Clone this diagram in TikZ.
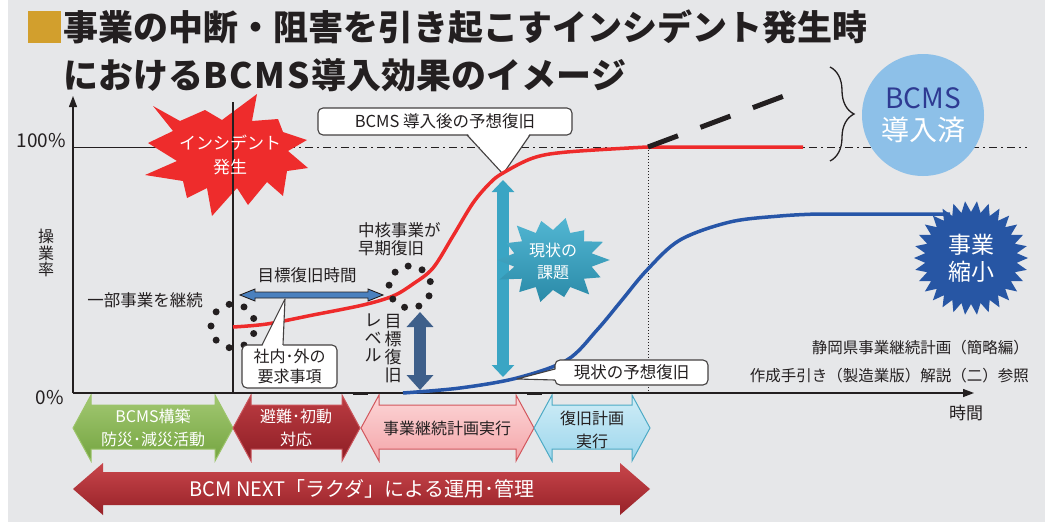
\documentclass[tikz,border=0pt]{standalone}
\usepackage{fontspec}
\setmainfont{Noto Sans CJK JP}
\usetikzlibrary{arrows.meta,decorations.pathreplacing}

\definecolor{bgray}{HTML}{E6E7E9}
\definecolor{ink}{HTML}{231F20}
\definecolor{titlegold}{HTML}{D29F2D}
\definecolor{curvered}{HTML}{EE2B2B}
\definecolor{curveblue}{HTML}{2756A8}
\definecolor{burstred}{HTML}{EE2C2C}
\definecolor{burstblue}{HTML}{2756A4}
\definecolor{circleblue}{HTML}{8DC0E8}
\definecolor{bcmsnavy}{HTML}{2E3A92}
\definecolor{gapteal}{HTML}{3AA5C4}
\definecolor{tealT}{HTML}{52B6D2}
\definecolor{tealB}{HTML}{2A8AA8}
\definecolor{goalnavy}{HTML}{3E5F8A}
\definecolor{spanblue}{HTML}{4A80BE}
\definecolor{phgreenT}{HTML}{A2C872}
\definecolor{phgreenB}{HTML}{74A440}
\definecolor{phgreenD}{HTML}{9CC46A}
\definecolor{phredT}{HTML}{BC3C42}
\definecolor{phredB}{HTML}{8E1E25}
\definecolor{phredD}{HTML}{C9545B}
\definecolor{phpinkT}{HTML}{FCD6D7}
\definecolor{phpinkB}{HTML}{F4A5A9}
\definecolor{phpinkD}{HTML}{D2575D}
\definecolor{phcyanT}{HTML}{D0EDF7}
\definecolor{phcyanB}{HTML}{9CD6EC}
\definecolor{phcyanD}{HTML}{4DAAC5}
\definecolor{bigT}{HTML}{C8464B}
\definecolor{bigB}{HTML}{972128}

\tikzset{
  lbl/.style={text=ink, inner sep=0pt, font=\fontsize{16.5}{19}\selectfont},
  titletxt/.style={text=ink, inner sep=0pt, font=\fontsize{35}{40}\selectfont\bfseries},
  phasetxt/.style={text=ink, inner sep=0pt, align=center, font=\fontsize{16}{23}\selectfont},
  bigtxt/.style={text=white, inner sep=0pt, font=\fontsize{20}{24}\selectfont},
  bursttxt/.style={text=white, inner sep=0pt, align=center},
  callbox/.style={draw=ink!85, fill=white, rounded corners=5pt, line width=1.1pt,
    inner sep=0pt, align=center, text=ink, font=\fontsize{16.5}{20}\selectfont},
  callline/.style={draw=ink!85, line width=1.1pt, line join=round},
  axisline/.style={ink, line width=1.3pt},
  gaparrow/.style={gapteal, line width=12pt,
    {Triangle[length=12pt,width=22pt]}-{Triangle[length=12pt,width=22pt]}},
  goalarrow/.style={goalnavy, line width=12pt,
    {Triangle[length=15pt,width=26pt]}-{Triangle[length=15pt,width=26pt]}},
  spanarrow/.style={fill=spanblue, draw=ink, line width=0.9pt, line join=miter}
}

\begin{document}
\begin{tikzpicture}[x=1pt, y=-1pt]
  % Canvas
  \useasboundingbox (0,0) rectangle (1053,522);
  \fill[white] (0,0) rectangle (1053,522);
  \fill[bgray] (8,0) rectangle (1045,522);

  % Title
  \fill[titlegold] (28,11) rectangle (61,43);
  \node[titletxt, anchor=west] (title1) at (63,27) {事業の中断・阻害を引き起こすインシデント発生時};
  \node[titletxt, anchor=west] (title2) at (63,75) {におけるB\kern2pt C\kern2pt M\kern2pt S\kern2pt 導入効果のイメージ};

  % Phase arrows
  \foreach \xa/\xb/\ct/\cb/\cd in {73/233/phgreenT/phgreenB/phgreenD, 233/360/phredT/phredB/phredD,
      361/534/phpinkT/phpinkB/phpinkD, 534/650/phcyanT/phcyanB/phcyanD} {
    \shade[top color=\ct, bottom color=\cb, draw=\cd, line width=1pt]
      (\xa,428) -- ({\xa+18},395) -- ({\xa+18},405) -- ({\xb-18},405) -- ({\xb-18},395)
      -- (\xb,428) -- ({\xb-18},461) -- ({\xb-18},449) -- ({\xa+18},449) -- ({\xa+18},461) -- cycle;
  }
  \node[phasetxt, text=white] (ph1) at (153,428) {BCMS構築\\防災･減災活動};
  \node[phasetxt, text=white] (ph2) at (296,428) {避難･初動\\対応};
  \node[phasetxt] (ph3) at (447,428) {事業継続計画実行};
  \node[phasetxt] (ph4) at (592,430) {復旧計画\\実行};

  % Operation arrow
  \shade[top color=bigT, bottom color=bigB]
    (73,489) -- (103,463) -- (103,472) -- (620,472) -- (620,463) -- (650,489)
    -- (620,515) -- (620,505) -- (103,505) -- (103,515) -- cycle;
  \node[bigtxt] (bcmNext) at (362,489) {BCM NEXT「ラクダ」による運用･管理};

  % 100% level and guide lines
  \draw[ink, line width=1pt] (73,147) -- (233,147);
  \draw[ink, line width=1pt, dash pattern=on 8pt off 4pt on 2pt off 4pt] (233,147) -- (1027,147);
  \draw[ink, line width=0.9pt, dash pattern=on 1pt off 2pt] (648,147) -- (648,393);

  % Axes
  \coordinate (origin) at (73,393);
  \coordinate (xEnd) at (974,393);
  \coordinate (yEnd) at (73,96);
  \draw[axisline, -{Triangle[length=11pt,width=8pt]}] (origin) -- (xEnd);
  \draw[axisline, -{Triangle[length=11pt,width=8pt]}] (origin) -- (yEnd);
  \draw[ink, line width=3pt] (353,393) -- (368,393);
  \draw[ink, line width=3pt] (527,393) -- (542,393);
  \node[lbl, font=\fontsize{19}{22}\selectfont, anchor=east] (pct100) at (66,141) {100\%};
  \node[lbl, font=\fontsize{19}{22}\selectfont, anchor=east] (pct0) at (64,398) {0\%};
  \node[lbl, align=center, font=\fontsize{16}{16.5}\selectfont] (yLabel) at (46,253) {操\\業\\率};
  \node[lbl, font=\fontsize{17}{20}\selectfont] (xLabel) at (966,413) {時間};

  % BCMS callout
  \node[callbox, minimum width=254pt, minimum height=27pt] (afterBox) at (445,121.5) {BCMS\ 導入後の予想復旧};
  \coordinate (afterTip) at (503,174);
  \fill[white] (467,133) -- (afterTip) -- (530,133) -- cycle;
  \draw[callline] (467,135) -- (afterTip) -- (530,135);

  % Incident burst
  \fill[burstred] (153,106) -- (180,121) -- (205,110) -- (222,120) -- (257,94) -- (252,121)
    -- (278,119) -- (283,132) -- (307,140) -- (288,151) -- (308,168) -- (287,171)
    -- (283,196) -- (267,182) -- (248,205) -- (237,188) -- (212,216) -- (207,188)
    -- (187,198) -- (183,181) -- (145,175) -- (177,161) -- (148,143) -- (173,131) -- cycle;
  \draw[axisline] (233,102) -- (origin -| 233,0);
  \node[bursttxt, font=\fontsize{17}{24}\selectfont] (incident) at (230,155) {インシデント\\発生};

  % Recovery curves
  \draw[curveblue, line width=3.5pt] plot[smooth, tension=0.55] coordinates {(403,393) (460,388) (517,378)
    (567,360) (597,330) (622,300) (647,270) (680,240) (730,222) (780,216) (817,214)} -- (950,214);
  \draw[curvered, line width=3.5pt] plot[smooth, tension=0.55] coordinates {(233,327) (267,324) (313,315)
    (363,305) (393,296) (413,284) (433,268) (453,236) (473,203) (490,183) (503,173) (533,158)
    (567,152) (647,147)} -- (803,147);
  \draw[ink, line width=5pt, dash pattern=on 32pt off 24pt] (648,147) -- (784,96);

  % BCMS done
  \draw[ink, line width=1.3pt, decorate, decoration={brace, amplitude=24pt}] (830,67) -- (830,161);
  \node[circle, fill=circleblue, minimum size=122pt, inner sep=0pt, align=center, text=white,
    font=\fontsize{28}{32}\selectfont] (bcmsDone) at (923,115) {\textcolor{bcmsnavy}{BCMS}\\導入済};

  % Dotted rings
  \foreach \a in {-100,-60,...,220}
    \fill[ink, shift={(233,326)}] (\a:22) circle[radius=3.5pt];
  \foreach \a in {-95,-55,...,225}
    \fill[ink, shift={(410,287)}] (\a:21) circle[radius=3.5pt];

  % Labels
  \node[lbl] (partCont) at (145,300) {一部事業を継続};
  \node[lbl] (goalTime) at (307,275) {目標復旧時間};
  \node[lbl, anchor=west, align=left, font=\fontsize{16.5}{18}\selectfont] (coreBiz) at (358,239) {中核事業が\\早期復旧};
  \node[lbl, anchor=north, align=center, font=\fontsize{17}{18}\selectfont] (goalLvA) at (393,314) {目\\標\\復\\旧};
  \node[lbl, anchor=north, align=center, font=\fontsize{17}{17.5}\selectfont] (goalLvB) at (373,314) {レ\\ベ\\ル};

  % Target time arrow
  \coordinate (spanL) at (240,295);
  \coordinate (spanR) at (383,295);
  \draw[spanarrow] (spanL) -- ++(15,-6) -- ++(0,3) -- (368,292) -- ++(0,-3) -- (spanR)
    -- ++(-15,6) -- ++(0,-3) -- (255,298) -- ++(0,3) -- cycle;

  % Gap and target level arrows
  \coordinate (gapTop) at (503,180);
  \coordinate (gapBot) at (503,377);
  \draw[gaparrow] (gapTop) -- (gapBot);
  \coordinate (goalTop) at (420,312);
  \coordinate (goalBot) at (420,390);
  \draw[goalarrow] (goalTop) -- (goalBot);

  % Requirement callout
  \node[callbox, minimum width=95pt, minimum height=43pt, font=\fontsize{16}{20}\selectfont] (reqBox) at (289.5,366.5) {社内･外の\\要求事項};
  \coordinate (reqTip) at (285,299);
  \fill[white] (262,347) -- (reqTip) -- (283,347) -- cycle;
  \draw[callline] (262,345) -- (reqTip) -- (283,345);

  % Current recovery callout
  \node[callbox, minimum width=153pt, minimum height=25pt] (nowBox) at (631.5,372.5) {現状の予想復旧};
  \coordinate (nowTip) at (517,379);
  \fill[white] (557,369) -- (nowTip) -- (557,380) -- cycle;
  \draw[callline] (555,369) -- (nowTip) -- (555,380);

  % Issue burst
  \begin{scope}[shift={(553,260)}, xscale=1.32]
    \shade[top color=tealT, bottom color=tealB] (0:43)
      \foreach \a/\r in {25.71/40, 51.43/44, 77.14/38, 102.86/43, 128.57/41, 154.29/45, 180/42,
        205.71/39, 231.43/44, 257.14/40, 282.86/43, 308.57/38, 334.29/42, 360/43}
      { -- ({\a-12.86}:30) -- (\a:\r) } -- cycle;
  \end{scope}
  \node[bursttxt, font=\fontsize{16}{22}\selectfont] (issue) at (553,261) {現状の\\課題};

  % Shrink burst
  \begin{scope}[shift={(971,258)}]
    \fill[burstblue] (0:57) \foreach \a in {12,24,...,360} { -- ({\a-6}:46) -- (\a:57) } -- cycle;
  \end{scope}
  \node[bursttxt, font=\fontsize{23}{27}\selectfont] (shrink) at (971,258) {事業\\縮小};

  % Source note
  \node[lbl, anchor=east, font=\fontsize{15.5}{18}\selectfont] (src1) at (1029,348) {静岡県事業継続計画（簡略編）};
  \node[lbl, anchor=east, font=\fontsize{15.5}{18}\selectfont] (src2) at (1029,376) {作成手引き（製造業版）解説（二）参照};
\end{tikzpicture}
\end{document}
